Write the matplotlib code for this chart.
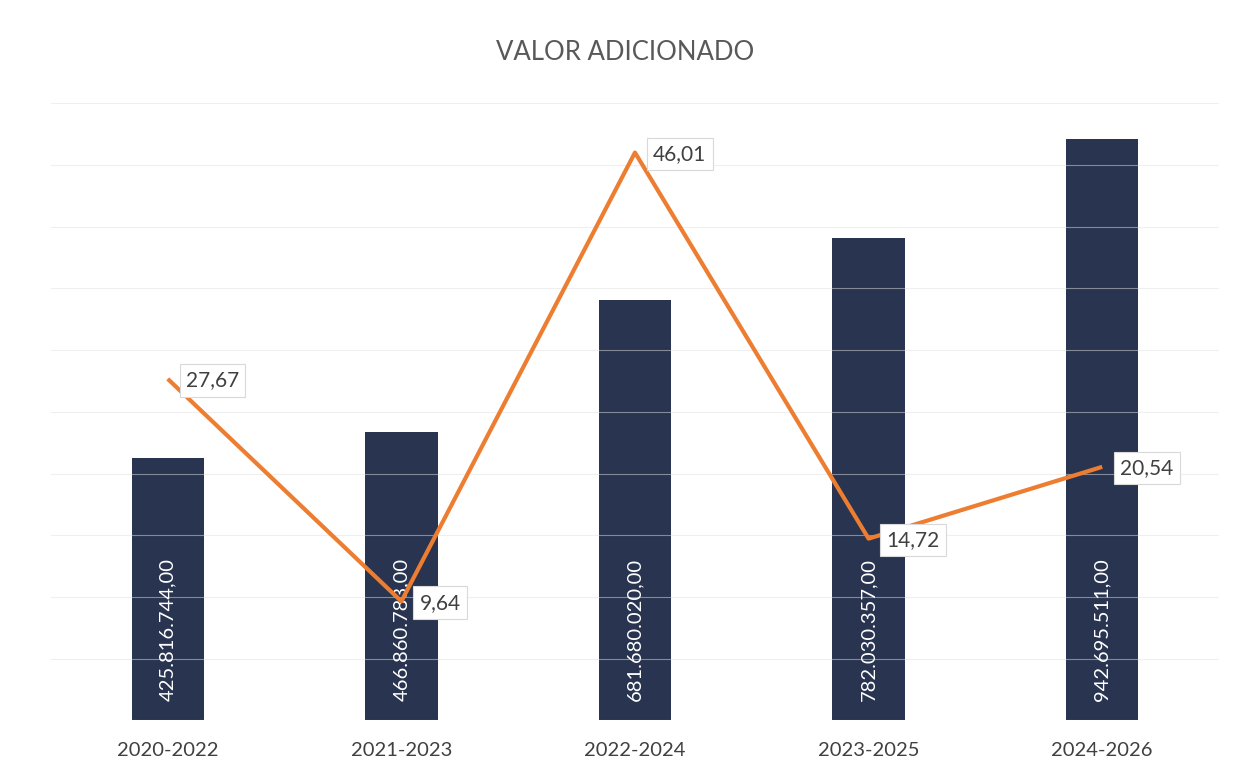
import matplotlib
matplotlib.use("Agg", force=True)
import matplotlib.pyplot as plt

PERIODS = ["2020-2022", "2021-2023", "2022-2024", "2023-2025", "2024-2026"]
VALOR = [425816744.00, 466860783.00, 681680020.00, 782030357.00, 942695511.00]
CRESCIMENTO = [27.67, 9.64, 46.01, 14.72, 20.54]

BAR_COLOR = "#283450"
LINE_COLOR = "#ED7D31"
TEXT_COLOR = "#595959"

plt.rcParams["font.family"] = ["Lato", "DejaVu Sans"]


def fmt_br(v: float) -> str:
    s = f"{v:,.2f}"
    return s.replace(",", "X").replace(".", ",").replace("X", ".")


fig = plt.figure(figsize=(12.42, 7.77), dpi=100)
ax = fig.add_axes([0.041, 0.073, 0.9405, 0.794])
x = list(range(len(PERIODS)))

ax.bar(x, VALOR, width=0.31, color=BAR_COLOR, zorder=1)
ax.set_ylim(0, 1.0e9)
ax.set_xlim(-0.5, len(PERIODS) - 0.5)
ax.set_yticks([i * 1e8 for i in range(11)])
ax.grid(axis="y", color="#e0e0e0", lw=0.8, alpha=0.5, zorder=2)
ax.set_axisbelow(False)
ax.set_xticks(x)
ax.set_xticklabels(PERIODS)
for s in ax.spines.values():
    s.set_visible(False)

for xi, v in zip(x, VALOR):
    ax.text(xi, 3.2e7, fmt_br(v), rotation=90, ha="center", va="bottom",
            color="white", fontsize=14.5, zorder=3)

ax2 = ax.twinx()
ax2.set_ylim(0, 50)
ax2.plot(x, CRESCIMENTO, color=LINE_COLOR, lw=3, solid_capstyle="butt", zorder=4)
ax2.set_yticks([])
for s in ax2.spines.values():
    s.set_visible(False)

ax.tick_params(axis="y", left=False, right=False, labelleft=False, labelright=False)
ax.tick_params(axis="x", bottom=False, labelsize=14.5, labelcolor="#404040", pad=12)

for xi, v in zip(x, CRESCIMENTO):
    ax2.annotate(f"{v:.2f}".replace(".", ","), (xi, v), xytext=(13, -1),
                 textcoords="offset points", ha="left", va="center",
                 fontsize=15, color="#404040", zorder=5,
                 bbox=dict(boxstyle="square,pad=0.3", fc="white", ec="#d9d9d9", lw=0.8))

fig.text(0.503, 0.933, "VALOR ADICIONADO", ha="center", va="center",
         fontsize=18.5, color=TEXT_COLOR)

fig.savefig("out.png", dpi=100)
